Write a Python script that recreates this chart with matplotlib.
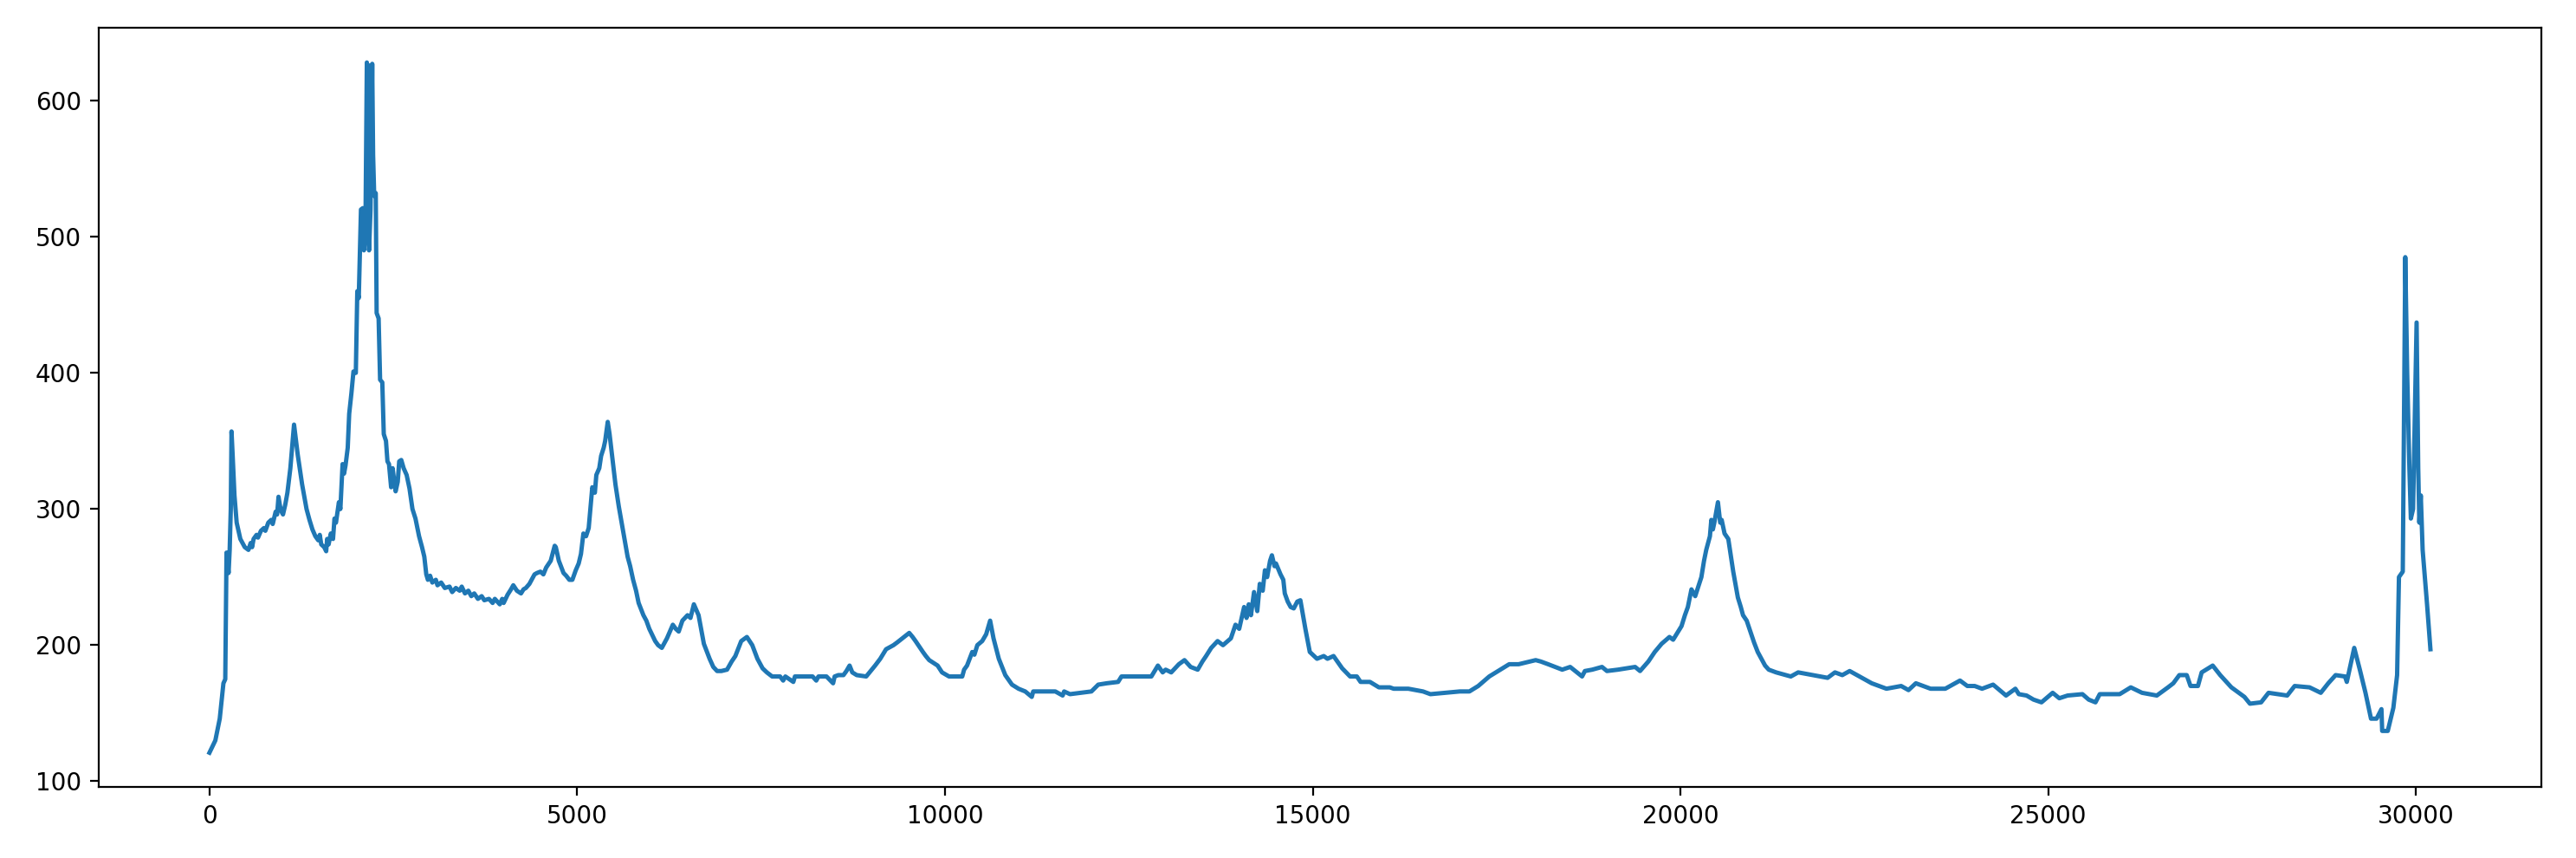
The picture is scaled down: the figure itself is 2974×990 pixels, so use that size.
import matplotlib
matplotlib.use("Agg")
import matplotlib.pyplot as plt

# trace, split in chunks (sample index, value)
x_start = [0, 80, 140, 190, 215, 225, 232, 260, 275, 290, 300, 315, 340, 370, 420,
           480, 530, 560, 580, 600, 640, 660, 700, 740, 760, 800, 840, 860, 900, 920,
           939, 960, 980, 1000, 1030, 1060, 1100, 1150, 1200, 1260, 1320, 1360, 1400,
           1440, 1480, 1500, 1520, 1560, 1587, 1600, 1620, 1650, 1680, 1700, 1720,
           1760, 1780, 1810, 1830, 1850, 1880, 1900, 1930, 1958, 1990]
y_start = [121, 130, 146, 172, 175, 228, 268, 253, 270, 300, 357, 340, 310, 290, 278,
           272, 270, 275, 272, 278, 281, 279, 284, 286, 284, 290, 292, 289, 298, 296,
           309, 302, 298, 296, 303, 312, 330, 362, 340, 318, 300, 292, 285,
           280, 277, 281, 274, 272, 269, 278, 274, 282, 278, 293, 290,
           305, 300, 333, 326, 332, 345, 370, 385, 401, 400]

x_peak = [2010, 2030, 2060, 2085, 2100, 2120, 2140, 2150, 2160, 2170, 2190, 2213,
          2225, 2240, 2261, 2273, 2300, 2320, 2350, 2370, 2400, 2420, 2441, 2470,
          2490, 2531, 2560, 2580, 2608, 2640, 2681, 2720, 2760, 2801, 2850, 2890, 2921]
y_peak = [460, 455, 520, 521, 490, 500, 628, 600, 626, 490, 520, 627,
          560, 530, 532, 444, 440, 395, 393, 355, 350, 335, 333, 316,
          330, 313, 320, 335, 336, 330, 325, 315, 300, 293, 280, 272, 265]

x_5k = [2948, 2970, 3000, 3030, 3078, 3100, 3150, 3200, 3264, 3300, 3350, 3402, 3430,
        3474, 3520, 3560, 3600, 3650, 3701, 3737, 3800, 3850, 3880, 3947, 3980, 4000,
        4053, 4100, 4131, 4180, 4236, 4270, 4302, 4350, 4390, 4420, 4453, 4500, 4540,
        4578, 4640, 4694, 4709, 4750, 4814, 4850, 4893, 4934, 4980, 5020, 5051, 5084,
        5120, 5156, 5205, 5240, 5260, 5300, 5325, 5360, 5380, 5415, 5440, 5475, 5520,
        5565, 5620, 5685, 5720, 5760, 5800, 5835, 5900, 5940, 5980]
y_5k = [252, 248, 251, 246, 248, 244, 246, 242, 243, 239, 242, 240, 243,
        238, 240, 236, 238, 234, 236, 233, 234, 231, 234, 230, 234, 231,
        237, 241, 244, 240, 238, 241, 242, 245, 249, 252, 253, 254, 252,
        257, 262, 273, 272, 262, 253, 251, 248, 248, 255, 260, 267, 282,
        280, 286, 316, 312, 325, 330, 339, 345, 350, 364, 355, 339, 318,
        302, 285, 265, 258, 248, 240, 231, 222, 218, 212]

x_10k = [6060, 6100, 6150, 6220, 6260, 6300, 6340, 6380, 6430, 6500, 6540, 6586, 6650,
         6722, 6800, 6850, 6902, 6960, 7037, 7100, 7150, 7230, 7307, 7380, 7450, 7520,
         7578, 7650, 7758, 7800, 7830, 7938, 7960, 8100, 8200, 8250, 8280, 8389, 8479,
         8500, 8550, 8620, 8660, 8703, 8740, 8800, 8929, 8990, 9050, 9120, 9199, 9300,
         9350, 9420, 9514, 9560, 9600, 9700, 9740, 9786, 9900, 9960, 10055, 10235,
         10260, 10300, 10371, 10400, 10440, 10506, 10560, 10614, 10660, 10732, 10820,
         10911, 11000]
y_10k = [203, 200, 198, 205, 210, 215, 212, 210, 218, 222, 220, 230, 222,
         201, 190, 184, 181, 181, 182, 188, 192, 203, 206, 200, 190, 183,
         180, 177, 177, 174, 177, 173, 177, 177, 177, 174, 177, 177, 172,
         177, 178, 178, 181, 185, 180, 178, 177, 181, 185, 190, 197, 200,
         202, 205, 209, 206, 203, 195, 192, 189, 185, 180, 177, 177,
         182, 185, 195, 193, 200, 203, 208, 218, 205, 190, 178,
         171, 168]

x_15k = [11091, 11180, 11200, 11273, 11500, 11600, 11620, 11700, 11991, 12084, 12200,
         12354, 12400, 12490, 12806, 12895, 12960, 13000, 13076, 13180, 13256, 13340,
         13436, 13500, 13550, 13620, 13706, 13780, 13887, 13950, 14000, 14067, 14100,
         14130, 14160, 14202, 14246, 14280, 14320, 14350, 14380, 14420, 14445, 14480,
         14500, 14562, 14600, 14620, 14660, 14700, 14742, 14790, 14832, 14900, 14960,
         15058, 15150, 15200, 15283, 15400, 15508, 15600, 15650, 15778, 15900, 16048,
         16100, 16300, 16499, 16600, 16800, 17000, 17130, 17250, 17400]
y_15k = [166, 162, 166, 166, 166, 163, 166, 164, 166, 171, 172,
         173, 177, 177, 177, 185, 180, 182, 180, 186, 189, 184,
         182, 188, 192, 198, 203, 200, 205, 215, 212, 228, 220,
         230, 222, 239, 225, 245, 240, 255, 250, 262, 266, 258,
         260, 252, 248, 238, 232, 228, 227, 232, 233, 212, 195,
         190, 192, 190, 192, 183, 177, 177, 173, 173, 169, 169,
         168, 168, 166, 164, 165, 166, 166, 170, 177]

x_20k = [17550, 17671, 17800, 18031, 18100, 18200, 18392, 18500, 18662, 18700, 18800,
         18933, 19000, 19150, 19383, 19450, 19563, 19650, 19743, 19850, 19900, 20014,
         20060, 20100, 20149, 20200, 20284, 20320, 20350, 20400, 20419, 20440, 20460,
         20509, 20540, 20560, 20599, 20650, 20717, 20780, 20820, 20850, 20900, 20950,
         21000, 21050, 21150, 21200, 21300, 21500, 21600, 21800, 22000, 22100, 22200,
         22300, 22400, 22500, 22600, 22800, 23000, 23100, 23200, 23400, 23600, 23700,
         23800, 23900, 24000, 24100, 24250]
y_20k = [182, 186, 186, 189, 188, 186, 182, 184, 177, 181, 182,
         184, 181, 182, 184, 181, 188, 195, 201, 206, 204, 214,
         222, 228, 241, 236, 250, 262, 270, 280, 292, 285, 290,
         305, 290, 292, 282, 278, 254, 235, 228, 222, 218, 210,
         202, 195, 185, 182, 180, 177, 180, 178, 176, 180, 178,
         181, 178, 175, 172, 168, 170, 167, 172, 168, 168, 171,
         174, 170, 170, 168, 171]

x_end = [24426, 24553, 24600, 24705, 24800, 24908, 25060, 25150, 25263, 25465, 25550,
         25642, 25700, 25769, 25971, 26122, 26275, 26476, 26628, 26700, 26782, 26883,
         26934, 27035, 27086, 27236, 27338, 27490, 27667, 27742, 27894, 27995, 28249,
         28350, 28553, 28705, 28807, 28907, 29034, 29059, 29160, 29236, 29313, 29388,
         29464, 29530, 29540, 29616, 29692, 29743, 29768, 29820, 29854, 29880, 29910,
         29930, 29960, 30008, 30030, 30045, 30065, 30090, 30150, 30196]
y_end = [163, 168, 164, 163, 160, 158, 165, 161, 163, 164, 160,
         158, 164, 164, 164, 169, 165, 163, 169, 172, 178, 178,
         170, 170, 180, 185, 178, 169, 162, 157, 158, 165, 163,
         170, 169, 165, 172, 178, 177, 173, 198, 182, 165, 146,
         146, 153, 137, 137, 154, 178, 250, 254, 485, 400, 330,
         293, 300, 437, 330, 290, 310, 270, 230, 197]

xs = x_start + x_peak + x_5k + x_10k + x_15k + x_20k + x_end
ys = y_start + y_peak + y_5k + y_10k + y_15k + y_20k + y_end

fig, ax = plt.subplots(figsize=(14.87, 4.95), dpi=200)
fig.subplots_adjust(left=0.0382, right=0.9866, top=0.9674, bottom=0.0825)

ax.plot(xs, ys, linewidth=1.8)

fig.savefig("out.png", dpi=200)
plt.close(fig)
